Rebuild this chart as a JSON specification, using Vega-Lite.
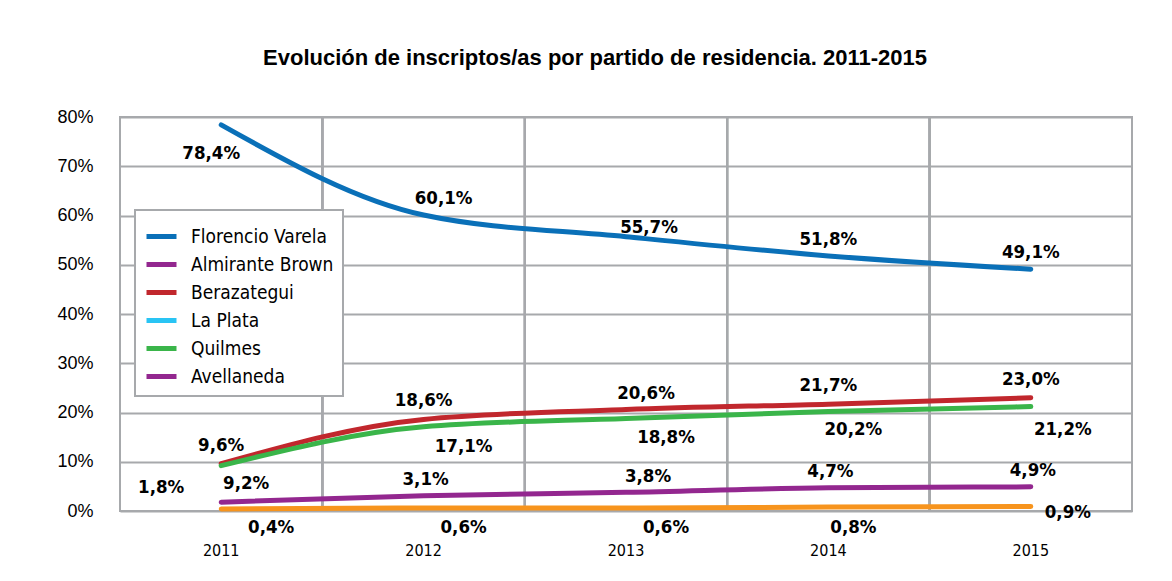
{
  "$schema": "https://vega.github.io/schema/vega-lite/v6.json",
  "autosize": "none",
  "width": 1012,
  "height": 394,
  "padding": {"left": 120, "top": 117, "right": 40, "bottom": 70},
  "background": "white",
  "title": {
    "text": "Evolución de inscriptos/as por partido de residencia. 2011-2015",
    "font": "Liberation Sans",
    "fontSize": 22,
    "fontWeight": "bold",
    "color": "#000000",
    "offset": 38,
    "dx": -31
  },
  "config": {
    "view": {"stroke": "#a7a9ac", "strokeWidth": 2},
    "legend": {"strokeWidth": 2},
    "text": {"font": "'DejaVu Sans Condensed', Roboto, sans-serif", "fontWeight": "bold", "fontSize": 18.5, "color": "#000000"}
  },
  "data": {
    "values": [
      {"partido": "Florencio Varela", "anio": "2011", "valor": 78.4},
      {"partido": "Florencio Varela", "anio": "2012", "valor": 60.1},
      {"partido": "Florencio Varela", "anio": "2013", "valor": 55.7},
      {"partido": "Florencio Varela", "anio": "2014", "valor": 51.8},
      {"partido": "Florencio Varela", "anio": "2015", "valor": 49.1},
      {"partido": "Almirante Brown", "anio": "2011", "valor": 1.8},
      {"partido": "Almirante Brown", "anio": "2012", "valor": 3.1},
      {"partido": "Almirante Brown", "anio": "2013", "valor": 3.8},
      {"partido": "Almirante Brown", "anio": "2014", "valor": 4.7},
      {"partido": "Almirante Brown", "anio": "2015", "valor": 4.9},
      {"partido": "Berazategui", "anio": "2011", "valor": 9.6},
      {"partido": "Berazategui", "anio": "2012", "valor": 18.6},
      {"partido": "Berazategui", "anio": "2013", "valor": 20.6},
      {"partido": "Berazategui", "anio": "2014", "valor": 21.7},
      {"partido": "Berazategui", "anio": "2015", "valor": 23.0},
      {"partido": "Quilmes", "anio": "2011", "valor": 9.2},
      {"partido": "Quilmes", "anio": "2012", "valor": 17.1},
      {"partido": "Quilmes", "anio": "2013", "valor": 18.8},
      {"partido": "Quilmes", "anio": "2014", "valor": 20.2},
      {"partido": "Quilmes", "anio": "2015", "valor": 21.2},
      {"partido": "La Plata", "anio": "2011", "valor": 0.4},
      {"partido": "La Plata", "anio": "2012", "valor": 0.6},
      {"partido": "La Plata", "anio": "2013", "valor": 0.6},
      {"partido": "La Plata", "anio": "2014", "valor": 0.8},
      {"partido": "La Plata", "anio": "2015", "valor": 0.9}
    ]
  },
  "transform": [
    {"calculate": "replace(format(datum.valor, '.1f'), '.', ',') + '%'", "as": "etiqueta"}
  ],
  "layer": [
    {
      "mark": {"type": "rule", "color": "#a7a9ac", "strokeWidth": 2},
      "encoding": {
        "x": {
          "field": "anio",
          "type": "ordinal",
          "bandPosition": 0,
          "scale": {"type": "band", "paddingInner": 0, "paddingOuter": 0},
          "axis": {
            "title": null,
            "grid": false,
            "domain": false,
            "ticks": false,
            "labelAngle": 0,
            "labelPadding": 31,
            "labelFont": "'DejaVu Sans Condensed', Roboto, sans-serif",
            "labelFontSize": 16,
            "labelColor": "#000000"
          }
        }
      }
    },
    {
      "transform": [{"filter": "datum.partido == 'La Plata'"}],
      "mark": {"type": "line", "interpolate": "monotone", "strokeWidth": 5, "strokeCap": "round", "color": "#f7941d"},
      "encoding": {
        "x": {"field": "anio", "type": "ordinal", "bandPosition": 0.5},
        "y": {
          "field": "valor",
          "type": "quantitative",
          "scale": {"domain": [0, 80], "nice": false},
          "axis": {
            "title": null,
            "values": [0, 10, 20, 30, 40, 50, 60, 70, 80],
            "labelExpr": "datum.value + '%'",
            "grid": true,
            "gridColor": "#a7a9ac",
            "gridWidth": 2,
            "domain": false,
            "ticks": false,
            "labelPadding": 27,
            "labelFont": "Liberation Sans",
            "labelFontSize": 18,
            "labelColor": "#000000"
          }
        }
      }
    },
    {
      "transform": [{"filter": "datum.partido != 'La Plata'"}],
      "mark": {"type": "line", "interpolate": "monotone", "strokeWidth": 5, "strokeCap": "round"},
      "encoding": {
        "x": {"field": "anio", "type": "ordinal", "bandPosition": 0.5},
        "y": {"field": "valor", "type": "quantitative"},
        "color": {
          "field": "partido",
          "type": "nominal",
          "scale": {
            "domain": ["Florencio Varela", "Almirante Brown", "Berazategui", "La Plata", "Quilmes", "Avellaneda"],
            "range": ["#0a70b8", "#93278f", "#c1272d", "#29c4f4", "#3ab54a", "#93278f"]
          },
          "legend": {
            "title": null,
            "orient": "none",
            "legendX": 15,
            "legendY": 93,
            "fillColor": "white",
            "strokeColor": "#a7a9ac",
            "padding": 9,
            "labelFont": "'DejaVu Sans Condensed', Roboto, sans-serif",
            "labelFontSize": 19,
            "labelColor": "#000000",
            "labelOffset": 12,
            "symbolType": "stroke",
            "symbolStrokeWidth": 5,
            "symbolSize": 900,
            "rowPadding": 0
          }
        }
      }
    },
    {
      "encoding": {
        "x": {"field": "anio", "type": "ordinal", "bandPosition": 0.5},
        "y": {"field": "valor", "type": "quantitative"},
        "text": {"field": "etiqueta", "type": "nominal"}
      },
      "layer": [
        {"transform": [{"filter": "datum.partido == 'Florencio Varela' && datum.anio == '2011'"}], "mark": {"type": "text", "dx": -10, "dy": 28}},
        {"transform": [{"filter": "datum.partido == 'Florencio Varela' && datum.anio == '2012'"}], "mark": {"type": "text", "dx": 20, "dy": -17}},
        {"transform": [{"filter": "datum.partido == 'Florencio Varela' && datum.anio == '2013'"}], "mark": {"type": "text", "dx": 23, "dy": -10}},
        {"transform": [{"filter": "datum.partido == 'Florencio Varela' && (datum.anio == '2014' || datum.anio == '2015')"}], "mark": {"type": "text", "dx": 0, "dy": -17}},
        {"transform": [{"filter": "datum.partido == 'Berazategui' && datum.anio == '2013'"}], "mark": {"type": "text", "dx": 20, "dy": -17}},
        {"transform": [{"filter": "datum.partido == 'Berazategui' && datum.anio != '2013'"}], "mark": {"type": "text", "dx": 0, "dy": -19}},
        {"transform": [{"filter": "datum.partido == 'Quilmes' && (datum.anio == '2011' || datum.anio == '2014')"}], "mark": {"type": "text", "dx": 25, "dy": 17}},
        {"transform": [{"filter": "datum.partido == 'Quilmes' && (datum.anio == '2012' || datum.anio == '2013')"}], "mark": {"type": "text", "dx": 40, "dy": 19}},
        {"transform": [{"filter": "datum.partido == 'Quilmes' && datum.anio == '2015'"}], "mark": {"type": "text", "dx": 32, "dy": 22}},
        {"transform": [{"filter": "datum.partido == 'Almirante Brown' && datum.anio == '2011'"}], "mark": {"type": "text", "dx": -60, "dy": -15}},
        {"transform": [{"filter": "datum.partido == 'Almirante Brown' && datum.anio == '2013'"}], "mark": {"type": "text", "dx": 22, "dy": -16}},
        {"transform": [{"filter": "datum.partido == 'Almirante Brown' && datum.anio != '2011' && datum.anio != '2013'"}], "mark": {"type": "text", "dx": 2, "dy": -17}},
        {"transform": [{"filter": "datum.partido == 'La Plata' && datum.anio == '2015'"}], "mark": {"type": "text", "dx": 37, "dy": 5}},
        {"transform": [{"filter": "datum.partido == 'La Plata' && datum.anio == '2014'"}], "mark": {"type": "text", "dx": 25, "dy": 20}},
        {"transform": [{"filter": "datum.partido == 'La Plata' && datum.anio == '2011'"}], "mark": {"type": "text", "dx": 50, "dy": 18}},
        {"transform": [{"filter": "datum.partido == 'La Plata' && (datum.anio == '2012' || datum.anio == '2013')"}], "mark": {"type": "text", "dx": 40, "dy": 19}}
      ]
    }
  ]
}
